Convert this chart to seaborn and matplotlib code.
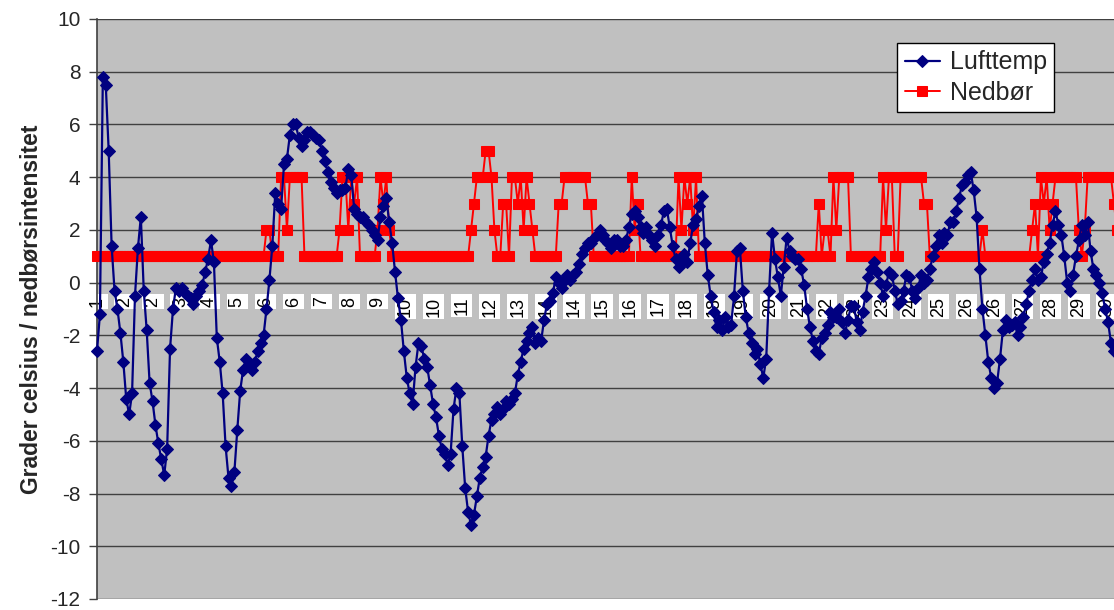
import numpy as np
import matplotlib
matplotlib.use("Agg")
import matplotlib.pyplot as plt
import seaborn as sns
from matplotlib.ticker import MultipleLocator

# Two-hourly readings, hours since the start of the month
hours = np.arange(0, 700, 2)

lufttemp = [
    -2.6, -1.2, 7.8, 7.5, 5.0, 1.4, -0.3, -1.0, -1.9, -3.0,
    -4.4, -5.0, -4.2, -0.5, 1.3, 2.5, -0.3, -1.8, -3.8, -4.5,
    -5.4, -6.1, -6.7, -7.3, -6.3, -2.5, -1.0, -0.2, -0.3, -0.2,
    -0.4, -0.5, -0.6, -0.8, -0.5, -0.3, -0.1, 0.4, 0.9, 1.6,
    0.8, -2.1, -3.0, -4.2, -6.2, -7.4, -7.7, -7.2, -5.6, -4.1,
    -3.3, -2.9, -3.1, -3.3, -3.0, -2.6, -2.3, -2.0, -1.0, 0.1,
    1.4, 3.4, 3.0, 2.8, 4.5, 4.7, 5.6, 6.0, 6.0, 5.5,
    5.2, 5.4, 5.7, 5.7, 5.6, 5.5, 5.4, 5.0, 4.6, 4.2,
    3.8, 3.6, 3.4, 3.5, 3.5, 3.6, 4.3, 4.1, 2.8, 2.6,
    2.5, 2.5, 2.3, 2.2, 2.0, 1.8, 1.6, 2.5, 2.9, 3.2,
    2.3, 1.5, 0.4, -0.6, -1.4, -2.6, -3.6, -4.2, -4.6, -3.2,
    -2.3, -2.4, -2.9, -3.2, -3.9, -4.6, -5.1, -5.8, -6.3, -6.5,
    -6.9, -6.5, -4.8, -4.0, -4.2, -6.2, -7.8, -8.7, -9.2, -8.8,
    -8.1, -7.4, -7.0, -6.6, -5.8, -5.2, -5.0, -4.7, -5.0, -4.8,
    -4.5, -4.6, -4.4, -4.2, -3.5, -3.0, -2.5, -2.2, -1.9, -1.7,
    -2.3, -2.1, -2.2, -1.4, -0.8, -0.7, -0.4, 0.2, 0.0, -0.2,
    0.1, 0.3, 0.1, 0.3, 0.4, 0.7, 1.1, 1.3, 1.5, 1.5,
    1.7, 1.8, 2.0, 1.8, 1.6, 1.5, 1.3, 1.6, 1.6, 1.4,
    1.4, 1.6, 2.1, 2.6, 2.7, 2.5, 2.1, 1.9, 2.1, 1.8,
    1.6, 1.4, 1.8, 2.2, 2.7, 2.8, 2.1, 1.4, 0.9, 0.6,
    0.8, 1.1, 0.8, 1.5, 2.2, 2.4, 2.9, 3.3, 1.5, 0.3,
    -0.5, -1.1, -1.7, -1.4, -1.8, -1.3, -1.7, -1.6, -0.5, 1.2,
    1.3, -0.3, -1.3, -1.9, -2.3, -2.7, -2.5, -3.1, -3.6, -2.9,
    -0.3, 1.9, 0.9, 0.2, -0.5, 0.6, 1.7, 1.2, 1.0, 0.9,
    0.9, 0.5, -0.1, -1.0, -1.7, -2.2, -2.6, -2.7, -2.1, -1.9,
    -1.6, -1.1, -1.3, -1.3, -1.0, -1.5, -1.9, -1.4, -0.9, -0.9,
    -1.5, -1.8, -1.1, -0.5, 0.2, 0.5, 0.8, 0.4, 0.0, -0.5,
    -0.1, 0.4, 0.3, -0.3, -0.8, -0.7, -0.3, 0.3, 0.2, -0.3,
    -0.6, -0.2, 0.3, 0.0, 0.1, 0.5, 1.0, 1.4, 1.8, 1.5,
    1.9, 1.8, 2.3, 2.3, 2.7, 3.2, 3.7, 3.8, 4.1, 4.2,
    3.5, 2.5, 0.5, -1.0, -2.0, -3.0, -3.6, -4.0, -3.8, -2.9,
    -1.8, -1.4, -1.7, -1.6, -1.5, -2.0, -1.7, -1.3, -0.8, -0.3,
    0.1, 0.5, 0.1, 0.2, 0.8, 1.1, 1.5, 2.2, 2.7, 2.2,
    1.8, 1.0, 0.0, -0.3, 0.3, 1.0, 1.6, 2.2, 1.8, 2.3,
    1.2, 0.5, 0.3, 0.0, -0.4, -1.0, -1.5, -2.3, -2.6, -2.4,
]

nedbor = [
    1, 1, 1, 1, 1, 1, 1, 1, 1, 1,
    1, 1, 1, 1, 1, 1, 1, 1, 1, 1,
    1, 1, 1, 1, 1, 1, 1, 1, 1, 1,
    1, 1, 1, 1, 1, 1, 1, 1, 1, 1,
    1, 1, 1, 1, 1, 1, 1, 1, 1, 1,
    1, 1, 1, 1, 1, 1, 1, 1, 2, 2,
    1, 1, 1, 4, 4, 2, 4, 4, 4, 4,
    4, 1, 1, 1, 1, 1, 1, 1, 1, 1,
    1, 1, 1, 2, 4, 4, 2, 4, 3, 4,
    1, 1, 1, 1, 1, 1, 2, 4, 3, 4,
    2, 1, 1, 1, 1, 1, 1, 1, 1, 1,
    1, 1, 1, 1, 1, 1, 1, 1, 1, 1,
    1, 1, 1, 1, 1, 1, 1, 1, 2, 3,
    4, 4, 4, 5, 5, 4, 2, 1, 1, 3,
    3, 1, 4, 4, 3, 4, 2, 4, 3, 2,
    1, 1, 1, 1, 1, 1, 1, 1, 3, 3,
    4, 4, 4, 4, 4, 4, 4, 4, 3, 3,
    1, 1, 1, 1, 1, 1, 1, 1, 1, 1,
    1, 1, 1, 4, 2, 3, 1, 1, 1, 1,
    1, 1, 1, 1, 1, 1, 1, 1, 1, 4,
    2, 4, 3, 4, 2, 4, 1, 1, 1, 1,
    1, 1, 1, 1, 1, 1, 1, 1, 1, 1,
    1, 1, 1, 1, 1, 1, 1, 1, 1, 1,
    1, 1, 1, 1, 1, 1, 1, 1, 1, 1,
    1, 1, 1, 1, 1, 1, 1, 3, 1, 2,
    2, 1, 4, 2, 4, 4, 4, 4, 1, 1,
    1, 1, 1, 1, 1, 1, 1, 1, 1, 4,
    2, 4, 4, 1, 1, 4, 4, 4, 4, 4,
    4, 4, 4, 3, 3, 1, 1, 1, 1, 1,
    1, 1, 1, 1, 1, 1, 1, 1, 1, 1,
    1, 1, 1, 2, 1, 1, 1, 1, 1, 1,
    1, 1, 1, 1, 1, 1, 1, 1, 1, 1,
    2, 3, 1, 4, 3, 4, 2, 3, 4, 4,
    4, 4, 4, 4, 4, 4, 2, 1, 2, 4,
    4, 4, 4, 4, 4, 4, 4, 4, 3, 2,
]

# Day-of-month shown under every label position on the category axis
day_labels = [1, 2, 2, 3, 4, 5, 6, 6, 7, 8, 9, 10, 10, 11, 12, 13, 14, 14,
              15, 16, 17, 18, 18, 19, 20, 21, 22, 22, 23, 24, 25, 26, 26,
              27, 28, 29, 30]
label_every_hours = 19.2

sns.set_theme(style="white")
plt.rcParams["font.family"] = ["Liberation Sans", "DejaVu Sans"]

W, H = 1114, 610
fig = plt.figure(figsize=(W / 100, H / 100), dpi=100)
ax = fig.add_axes([97 / W, 11 / H, 1052 / W, 580 / H])
ax.set_facecolor("#C0C0C0")

sns.lineplot(x=hours, y=nedbor, ax=ax, color="#FF0000", marker="s",
             markersize=7, markeredgecolor="#FF0000", linewidth=1.4,
             estimator=None, sort=False, label="Nedbør", zorder=3,
             clip_on=False)
sns.lineplot(x=hours, y=lufttemp, ax=ax, color="#000080", marker="D",
             markersize=6, markeredgecolor="#000080", linewidth=1.6,
             estimator=None, sort=False, label="Lufttemp", zorder=4,
             clip_on=False)

ax.set_xlim(0, 720)
ax.set_ylim(-12, 10)
ax.set_yticks(np.arange(-12, 11, 2))
ax.set_yticklabels([str(v) for v in range(-12, 11, 2)])
ax.grid(axis="y", color="#404040", linewidth=1.0)
ax.set_axisbelow(True)

for side in ("top", "right"):
    ax.spines[side].set_visible(False)
ax.spines["left"].set_color("#404040")
ax.spines["left"].set_linewidth(1.2)
ax.spines["bottom"].set_position(("data", 0))
ax.spines["bottom"].set_color("#404040")
ax.spines["bottom"].set_linewidth(1.0)

tick_pos = [k * label_every_hours for k in range(len(day_labels))]
ax.set_xticks(tick_pos)
ax.set_xticklabels([str(d) for d in day_labels], rotation=90, fontsize=13,
                   bbox=dict(facecolor="white", edgecolor="none", pad=1.5))
ax.xaxis.set_minor_locator(MultipleLocator(1))
ax.tick_params(axis="x", which="major", length=0, pad=10, colors="black")
ax.tick_params(axis="x", which="minor", length=4.5, width=0.8,
               color="#202020", direction="out")
ax.tick_params(axis="y", which="major", length=6, width=1.0,
               color="#404040", labelsize=15, pad=6, left=True)

ax.set_xlabel("")
ax.set_ylabel("Grader celsius / nedbørsintensitet", fontsize=16.5,
              fontweight="bold")
ax.yaxis.set_label_coords(-0.052, 0.5)

handles, labels = ax.get_legend_handles_labels()
order = [labels.index("Lufttemp"), labels.index("Nedbør")]
ax.get_legend().remove()
fig.legend([handles[i] for i in order], [labels[i] for i in order],
           loc="upper left", bbox_to_anchor=(897 / W, 1 - 43 / H),
           fontsize=18, frameon=True, fancybox=False, edgecolor="#000000",
           framealpha=1, borderaxespad=0, handlelength=1.4,
           handletextpad=0.4, borderpad=0.3, labelspacing=0.25)

fig.savefig("out.png", dpi=100)
